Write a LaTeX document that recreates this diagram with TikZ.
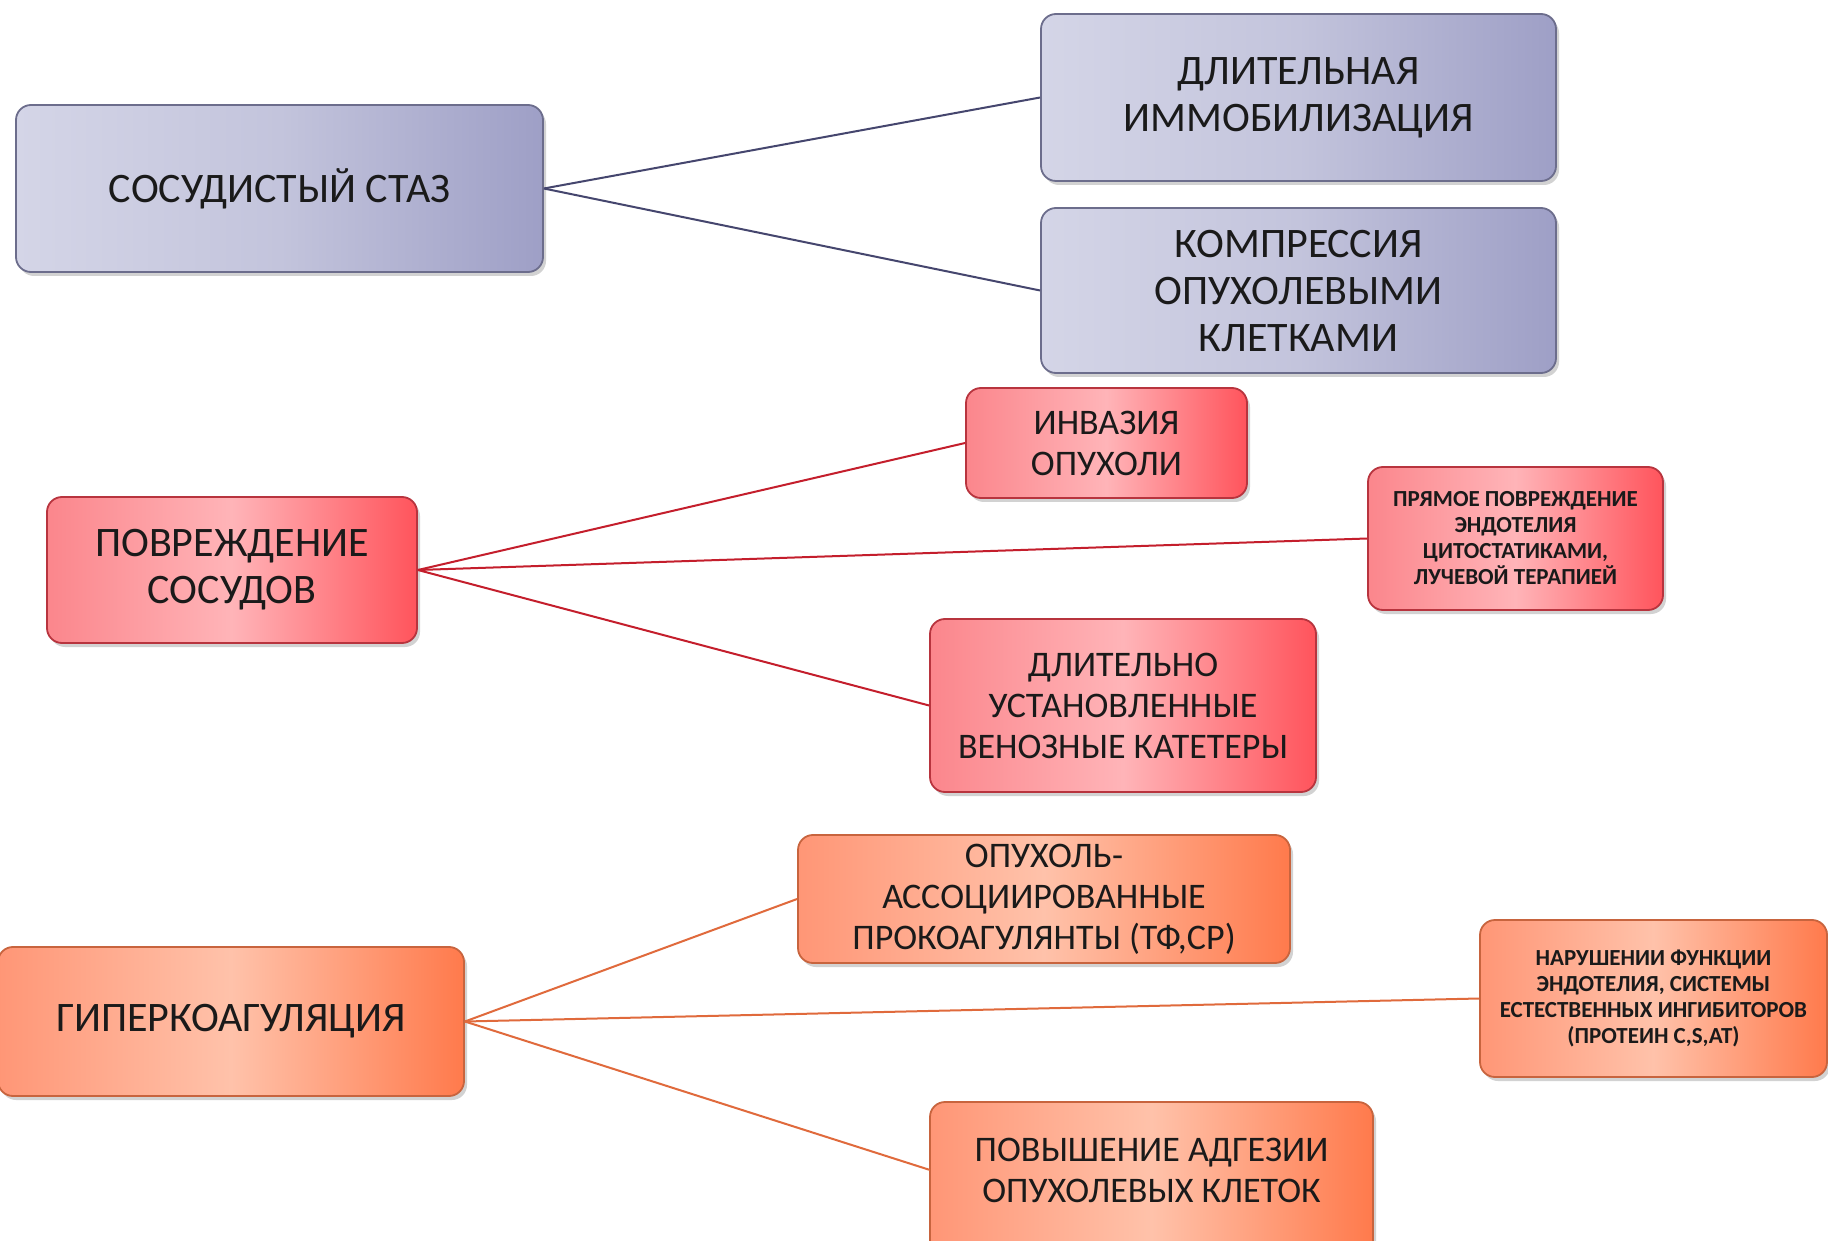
\documentclass[tikz,border=0pt]{standalone}
\usepackage{fontspec}
\setmainfont{Carlito}
\usetikzlibrary{shadows}
\definecolor{blueL}{HTML}{D4D5E7}
\definecolor{blueM}{HTML}{C3C4DC}
\definecolor{blueR}{HTML}{9E9FC6}
\definecolor{blueB}{HTML}{6C6D8C}
\definecolor{blueLine}{HTML}{45466E}
\definecolor{redL}{HTML}{FB868C}
\definecolor{redM}{HTML}{FFB4B8}
\definecolor{redR}{HTML}{FF545C}
\definecolor{redB}{HTML}{B8343E}
\definecolor{redLine}{HTML}{C41E2C}
\definecolor{orL}{HTML}{FF9676}
\definecolor{orM}{HTML}{FFC2AA}
\definecolor{orR}{HTML}{FF7A4C}
\definecolor{orB}{HTML}{C8643E}
\definecolor{orLine}{HTML}{E06A3C}
\definecolor{txt}{HTML}{1A1A1A}
\tikzset{
  box/.style={rounded corners=7.5pt, inner sep=0pt, align=center, text=txt, line width=0.9pt,
    drop shadow={opacity=0.35, shadow xshift=1.5pt, shadow yshift=-2pt}},
  bluebox/.style={box, draw=blueB, left color=blueL, right color=blueR, middle color=blueM},
  redbox/.style={box, draw=redB, left color=redL, right color=redR, middle color=redM},
  orbox/.style={box, draw=orB, left color=orL, right color=orR, middle color=orM},
  bigtxt/.style={font=\fontsize{21}{23.5}\selectfont},
  medtxt/.style={font=\fontsize{18}{20.5}\selectfont},
  smalltxt/.style={font=\fontsize{11.5}{13}\selectfont\bfseries},
  blueconn/.style={draw=blueLine, line width=1pt},
  redconn/.style={draw=redLine, line width=1pt},
  orconn/.style={draw=orLine, line width=1pt},
}
\begin{document}
\begin{tikzpicture}[x=0.5pt,y=-0.5pt]
\useasboundingbox (0,0) rectangle (1828,1241);
\fill[white] (0,0) rectangle (1828,1241);
\clip (0,0) rectangle (1828,1241);

% Vascular stasis
\node[bluebox, bigtxt, minimum width=263.5pt, minimum height=83.5pt] (stasis) at (279.5,188.5) {СОСУДИСТЫЙ СТАЗ};
\node[bluebox, bigtxt, minimum width=257.5pt, minimum height=83.5pt] (immob) at (1298.5,97.5) {ДЛИТЕЛЬНАЯ\\ИММОБИЛИЗАЦИЯ};
\node[bluebox, bigtxt, minimum width=257.5pt, minimum height=82.5pt] (compr) at (1298.5,290.5) {КОМПРЕССИЯ\\ОПУХОЛЕВЫМИ\\КЛЕТКАМИ};

% Vessel damage
\node[redbox, bigtxt, minimum width=185pt, minimum height=73pt] (damage) at (232,570) {ПОВРЕЖДЕНИЕ\\СОСУДОВ};
\node[redbox, medtxt, minimum width=140.5pt, minimum height=55pt] (invas) at (1106.5,443) {ИНВАЗИЯ\\ОПУХОЛИ};
\node[redbox, smalltxt, minimum width=147.5pt, minimum height=71.5pt] (direct) at (1515.5,538.5) {ПРЯМОЕ ПОВРЕЖДЕНИЕ\\ЭНДОТЕЛИЯ\\ЦИТОСТАТИКАМИ,\\ЛУЧЕВОЙ ТЕРАПИЕЙ};
\node[redbox, medtxt, minimum width=193pt, minimum height=86.5pt] (cath) at (1123,705.5) {ДЛИТЕЛЬНО\\УСТАНОВЛЕННЫЕ\\ВЕНОЗНЫЕ КАТЕТЕРЫ};

% Hypercoagulation
\node[orbox, bigtxt, minimum width=233pt, minimum height=74.5pt] (hyper) at (231,1021.5) {ГИПЕРКОАГУЛЯЦИЯ};
\node[orbox, medtxt, minimum width=246pt, minimum height=64pt] (procoag) at (1044,899) {ОПУХОЛЬ-\\АССОЦИИРОВАННЫЕ\\ПРОКОАГУЛЯНТЫ (ТФ,СР)};
\node[orbox, smalltxt, minimum width=173.5pt, minimum height=78.5pt] (endoth) at (1653.5,998.5) {НАРУШЕНИИ ФУНКЦИИ\\ЭНДОТЕЛИЯ, СИСТЕМЫ\\ЕСТЕСТВЕННЫХ ИНГИБИТОРОВ\\(ПРОТЕИН C,S,AT)};
\node[orbox, minimum width=221.5pt, minimum height=86pt,
  label={[medtxt, align=center, text=txt, yshift=9pt]center:ПОВЫШЕНИЕ АДГЕЗИИ\\ОПУХОЛЕВЫХ КЛЕТОК}] (adhes) at (1151.5,1188) {};
\coordinate (adhesin) at (930,1170);

% connectors
\draw[blueconn] (stasis.east) -- (immob.west);
\draw[blueconn] (stasis.east) -- (compr.west);
\draw[redconn] (damage.east) -- (invas.west);
\draw[redconn] (damage.east) -- (direct.west);
\draw[redconn] (damage.east) -- (cath.west);
\draw[orconn] (hyper.east) -- (procoag.west);
\draw[orconn] (hyper.east) -- (endoth.west);
\draw[orconn] (hyper.east) -- (adhesin);
\end{tikzpicture}
\end{document}
